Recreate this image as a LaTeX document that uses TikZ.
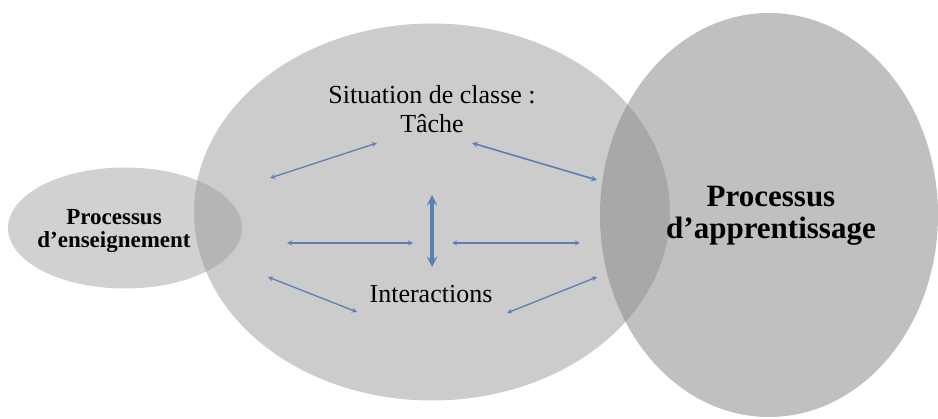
\documentclass[tikz,border=0pt]{standalone}
\usepackage{fontspec}
\setmainfont{Liberation Serif}
\usetikzlibrary{shapes.geometric}
\definecolor{fleche}{HTML}{5A80B6}
\tikzset{bulle/.style={ellipse,inner sep=0pt},lien/.style={<->,fleche,line width=1.3pt}}
\begin{document}
\begin{tikzpicture}[x=1pt,y=-1pt,>=stealth]
            \useasboundingbox(0,0)rectangle(938,419);
            \node[bulle,fill=black!20,minimum width=476pt,minimum height=377pt](classe)at(432,212){};
            \node[bulle,fill=black!40,fill opacity=0.45,minimum width=234pt,minimum height=121pt](ens)at(125,228){};
            \node[bulle,fill=black!45,fill opacity=0.55,minimum width=338pt,minimum height=404pt](app)at(769,215){};
            \node[align=center,font=\fontsize{26}{29}\selectfont](tache)at(432,109){Situation de classe :\\Tâche};
            \node[anchor=base,font=\fontsize{26}{29}\selectfont](inter)at(431,303){Interactions};
            \node[align=center,font=\bfseries\fontsize{23}{23}\selectfont](txtens)at(114,231){Processus\\d'enseignement};
            \node[align=center,font=\bfseries\fontsize{31}{32}\selectfont](txtapp)at(771,216){Processus\\d'apprentissage};
            \coordinate(h1)at(270,178);\coordinate(h2)at(377,143);
            \coordinate(h3)at(472,143);\coordinate(h4)at(597,180);
            \coordinate(m1)at(287,243);\coordinate(m2)at(413,243);
            \coordinate(m3)at(452,243);\coordinate(m4)at(580,243);
            \coordinate(b1)at(268,277);\coordinate(b2)at(357,312);
            \coordinate(b3)at(507,313);\coordinate(b4)at(597,277);
            \coordinate(v1)at(432,195);\coordinate(v2)at(432,267);
            \draw[lien](h1)--(h2);
            \draw[lien,line width=1.6pt](h4)--(h3);
            \draw[lien](m1)--(m2);
            \draw[lien](m3)--(m4);
            \draw[lien](b1)--(b2);
            \draw[lien](b3)--(b4);
            \draw[lien,line width=3.5pt](v1)--(v2);
        \end{tikzpicture}
\end{document}
